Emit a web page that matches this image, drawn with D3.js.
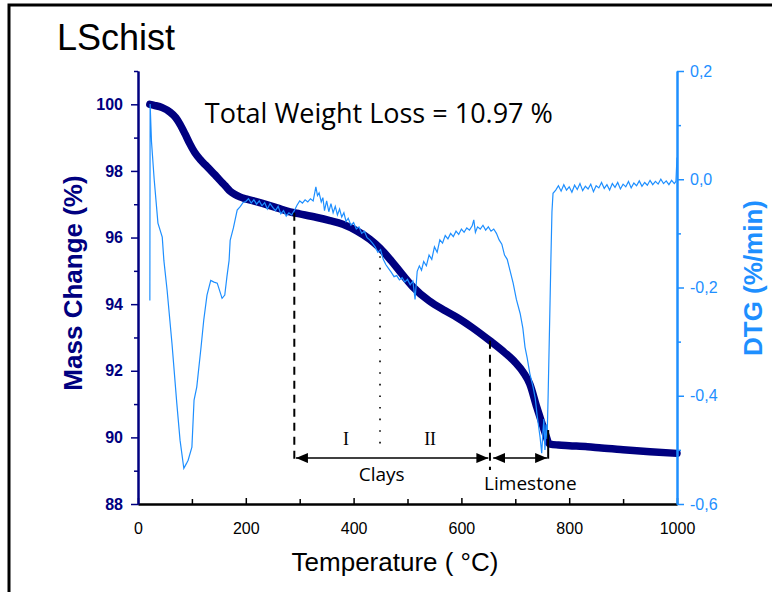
<!DOCTYPE html>
<html>
<head>
<meta charset="utf-8">
<script src="https://cdn.jsdelivr.net/npm/d3@7"></script>
<style>
  body { margin: 0; background: #fff; }
  svg { display: block; }
</style>
</head>
<body>
<svg id="chart"></svg>
<script>
// TGA / DTG curves
var tempMass = [22, 30, 45, 59, 70, 78, 87, 96, 105, 115, 125, 134, 143, 152, 162, 171, 180, 189, 200, 221, 240, 258, 282, 300, 330, 356, 380, 406, 430, 449, 470, 490, 510, 540, 570, 592, 620, 653, 680, 700, 715, 727, 740, 750, 755, 759, 761, 765, 780, 800, 834, 860, 900, 950, 1000];
var massPct = [100.0, 99.97, 99.9, 99.77, 99.6, 99.4, 99.12, 98.82, 98.56, 98.35, 98.18, 98.03, 97.88, 97.72, 97.55, 97.39, 97.29, 97.22, 97.16, 97.07, 96.98, 96.89, 96.77, 96.71, 96.61, 96.51, 96.4, 96.2, 95.95, 95.68, 95.3, 94.9, 94.52, 94.1, 93.8, 93.6, 93.3, 92.9, 92.55, 92.25, 91.95, 91.6, 90.9, 90.4, 90.15, 89.95, 89.85, 89.8, 89.77, 89.75, 89.72, 89.68, 89.63, 89.57, 89.52];

var tempDtg = [22, 22.5, 25, 30, 37, 45, 48, 54, 63, 72, 78, 85, 90, 93, 100, 104, 109, 117, 122, 128, 135, 141, 147, 156, 161, 165, 169, 171, 177, 184, 190, 195,
  200, 205, 210, 215, 220, 225, 230, 235, 240, 245, 250, 255, 260, 265, 270, 275, 280, 285, 290, 295, 300, 305, 310, 315, 320, 325, 330, 333, 336, 340, 343, 346, 350, 354, 358, 362, 366, 370, 374, 378, 382, 386, 390, 395, 400, 405, 410, 415, 420, 425, 430, 435, 440, 445, 450, 455, 460, 465, 470, 475, 480, 485, 490, 495, 500, 505, 510, 514, 518, 522, 526, 530, 535, 540, 545, 550, 555, 560, 565, 570, 575, 580, 585, 590, 595, 600, 605, 610, 615, 620, 623, 626, 630, 635, 640, 645, 650, 655, 660, 665, 670, 675, 680, 685, 690, 696, 702, 709, 714, 718, 722, 727, 733, 737, 740, 743, 746, 749, 751, 753, 755, 757, 759, 761, 764, 766, 768, 770, 775,
  780, 785, 790, 795, 800, 805, 810, 815, 820, 825, 830, 835, 840, 845, 850, 855, 860, 865, 870, 875, 880, 885, 890, 895, 900, 905, 910, 915, 920, 925, 930, 935, 940, 945, 950, 955, 960, 965, 970, 975, 980, 985, 990, 995, 998, 1000];
var dtgRate = [-0.224, 0.139, 0.07, 0.0, -0.081, -0.107, -0.15, -0.205, -0.303, -0.414, -0.482, -0.534, -0.525, -0.519, -0.495, -0.408, -0.384, -0.31, -0.26, -0.214, -0.187, -0.19, -0.192, -0.22, -0.214, -0.18, -0.15, -0.113, -0.09, -0.057, -0.05, -0.043,
  -0.041, -0.036, -0.044, -0.038, -0.046, -0.040, -0.049, -0.043, -0.055, -0.045, -0.052, -0.058, -0.050, -0.064, -0.058, -0.068, -0.062, -0.066, -0.058, -0.048, -0.040, -0.044, -0.038, -0.042, -0.036, -0.040, -0.014, -0.030, -0.025, -0.042, -0.034, -0.058, -0.040, -0.060, -0.045, -0.062, -0.050, -0.066, -0.055, -0.070, -0.062, -0.078, -0.072, -0.085, -0.080, -0.092, -0.088, -0.100, -0.096, -0.108, -0.112, -0.118, -0.125, -0.135, -0.130, -0.148, -0.158, -0.165, -0.172, -0.180, -0.178, -0.186, -0.182, -0.190, -0.185, -0.195, -0.188, -0.222, -0.170, -0.160, -0.168, -0.152, -0.160, -0.140, -0.148, -0.125, -0.135, -0.112, -0.118, -0.104, -0.110, -0.100, -0.106, -0.096, -0.102, -0.092, -0.098, -0.090, -0.094, -0.086, -0.075, -0.098, -0.088, -0.092, -0.085, -0.094, -0.088, -0.096, -0.092, -0.100, -0.112, -0.120, -0.140, -0.148, -0.168, -0.192, -0.222, -0.248, -0.275, -0.310, -0.330, -0.359, -0.384, -0.405, -0.432, -0.455, -0.477, -0.506, -0.470, -0.443, -0.500, -0.453, -0.480, -0.396, -0.25, -0.15, -0.06, -0.026, -0.020,
  -0.012, -0.022, -0.010, -0.020, -0.014, -0.024, -0.011, -0.019, -0.008, -0.021, -0.013, -0.018, -0.009, -0.023, -0.012, -0.016, -0.006, -0.017, -0.010, -0.020, -0.008, -0.015, -0.006, -0.018, -0.009, -0.014, -0.004, -0.016, -0.007, -0.012, -0.003, -0.013, -0.006, -0.011, -0.002, -0.010, -0.004, -0.009, 0.000, -0.008, -0.003, -0.010, -0.002, -0.008, -0.004, 0.04];

var tempTicks = [0, 200, 400, 600, 800, 1000];
var tempMinor = [100, 300, 500, 700, 900];
var massTicks = [88, 90, 92, 94, 96, 98, 100];
var massMinor = [89, 91, 93, 95, 97, 99, 101];
var dtgTicks = [-0.6, -0.4, -0.2, 0.0, 0.2];
var dtgMinor = [-0.5, -0.3, -0.1, 0.1];

var navy = "#000080", blue = "#1e8fff";
var W = 772, H = 592;

var svg = d3.select("#chart").attr("width", W).attr("height", H);

var x = d3.scaleLinear().domain([0, 1000]).range([138, 677]);
var yM = d3.scaleLinear().domain([88, 101]).range([504, 71]);
var yD = d3.scaleLinear().domain([-0.6, 0.2]).range([504, 71]);

// outer frame (only top and left edges show)
svg.append("path")
  .attr("d", "M9," + (H + 5) + "V5H" + (W + 5))
  .attr("fill", "none").attr("stroke", "#000").attr("stroke-width", 3);

var mass = tempMass.map(function(t, i) { return [t, massPct[i]]; });
var dtg = tempDtg.map(function(t, i) { return [t, dtgRate[i]]; });

function massAt(t) {
  var i = d3.bisector(function(d) { return d[0]; }).left(mass, t);
  if (i <= 0) return mass[0][1];
  var a = mass[i - 1], b = mass[i];
  return a[1] + (b[1] - a[1]) * (t - a[0]) / (b[0] - a[0]);
}

// mass curve
svg.append("path")
  .datum(mass)
  .attr("fill", "none")
  .attr("stroke", navy)
  .attr("stroke-width", 7.5)
  .attr("stroke-linecap", "round")
  .attr("stroke-linejoin", "round")
  .attr("d", d3.line().x(function(d) { return x(d[0]); }).y(function(d) { return yM(d[1]); }).curve(d3.curveMonotoneX));

// DTG curve
svg.append("path")
  .datum(dtg)
  .attr("fill", "none")
  .attr("stroke", blue)
  .attr("stroke-width", 1.2)
  .attr("d", d3.line().x(function(d) { return x(d[0]); }).y(function(d) { return yD(d[1]); }));

// axes
function styleAxis(g, color, size, weight) {
  g.select(".domain").attr("stroke", color).attr("stroke-width", 2);
  g.selectAll(".tick line").attr("stroke", color).attr("stroke-width", 1.5);
  g.selectAll(".tick text")
    .attr("fill", color)
    .attr("font-family", "'Liberation Sans', Arial, sans-serif")
    .attr("font-size", size)
    .attr("font-weight", weight);
}

svg.append("g")
  .attr("transform", "translate(0,504)")
  .call(d3.axisBottom(x).tickValues(tempMinor).tickSize(-5).tickSizeOuter(0).tickFormat(""))
  .call(styleAxis, "#000", 16, "normal");
svg.append("g")
  .attr("transform", "translate(0,504)")
  .call(d3.axisBottom(x).tickValues(tempTicks).tickSize(-6).tickSizeOuter(0).tickPadding(19).tickFormat(d3.format("d")))
  .call(styleAxis, "#000", 16, "normal");

svg.append("g")
  .attr("transform", "translate(138,0)")
  .call(d3.axisLeft(yM).tickValues(massMinor).tickSize(4).tickSizeOuter(0).tickFormat(""))
  .call(styleAxis, navy, 16, "bold");
svg.append("g")
  .attr("transform", "translate(138,0)")
  .call(d3.axisLeft(yM).tickValues(massTicks).tickSize(7).tickSizeOuter(0).tickPadding(8).tickFormat(d3.format("d")))
  .call(styleAxis, navy, 16, "bold");

var commaFmt = function(v) { return d3.format(".1f")(v).replace(".", ",").replace("\u2212", "-"); };
svg.append("g")
  .attr("transform", "translate(677,0)")
  .call(d3.axisRight(yD).tickValues(dtgMinor).tickSize(4).tickSizeOuter(0).tickFormat(""))
  .call(styleAxis, blue, 16, "normal");
svg.append("g")
  .attr("transform", "translate(677,0)")
  .call(d3.axisRight(yD).tickValues(dtgTicks).tickSize(7).tickSizeOuter(0).tickPadding(6).tickFormat(commaFmt))
  .call(styleAxis, blue, 16, "normal");

// axis titles
svg.append("text")
  .attr("x", 395).attr("y", 571)
  .attr("text-anchor", "middle")
  .attr("font-family", "'Liberation Sans', Arial, sans-serif")
  .attr("font-size", 26)
  .text("Temperature ( \u00B0C)");

svg.append("text")
  .attr("transform", "translate(82,283) rotate(-90)")
  .attr("text-anchor", "middle")
  .attr("font-family", "'Liberation Sans', Arial, sans-serif")
  .attr("font-size", 26).attr("font-weight", "bold")
  .attr("fill", navy)
  .text("Mass Change (%)");

svg.append("text")
  .attr("transform", "translate(762,278) rotate(-90)")
  .attr("text-anchor", "middle")
  .attr("font-family", "'Liberation Sans', Arial, sans-serif")
  .attr("font-size", 26).attr("font-weight", "bold")
  .attr("fill", blue)
  .text("DTG (%/min)");

svg.append("text")
  .attr("x", 57).attr("y", 50)
  .attr("font-family", "'Liberation Sans', Arial, sans-serif")
  .attr("font-size", 36)
  .text("LSchist");

svg.append("text")
  .attr("x", x(124)).attr("y", yM(99.43))
  .attr("font-family", "'Open Sans', sans-serif")
  .attr("font-size", 27)
  .text("Total Weight Loss = 10.97 %");

// annotations
var defs = svg.append("defs");
defs.append("marker")
  .attr("id", "head")
  .attr("viewBox", "0 0 12 10")
  .attr("refX", 12).attr("refY", 5)
  .attr("markerWidth", 12).attr("markerHeight", 10)
  .attr("markerUnits", "userSpaceOnUse")
  .attr("orient", "auto-start-reverse")
  .append("path").attr("d", "M0,0L12,5L0,10Z").attr("fill", "#000");

var ann = svg.append("g").attr("stroke", "#000").attr("fill", "none");
ann.append("line")
  .attr("x1", x(290)).attr("x2", x(290))
  .attr("y1", yM(massAt(290))).attr("y2", yM(89.23))
  .attr("stroke-width", 2).attr("stroke-dasharray", "8,6");
ann.append("line")
  .attr("x1", x(449)).attr("x2", x(449))
  .attr("y1", yM(massAt(449)) + 8).attr("y2", yM(89.71))
  .attr("stroke-width", 1.6).attr("stroke-dasharray", "1.6,10");
ann.append("line")
  .attr("x1", x(653)).attr("x2", x(653))
  .attr("y1", yM(massAt(653))).attr("y2", yM(89.02))
  .attr("stroke-width", 2).attr("stroke-dasharray", "8,6");
ann.append("line")
  .attr("x1", x(761)).attr("x2", x(761))
  .attr("y1", yM(90.22)).attr("y2", yM(89.36))
  .attr("stroke-width", 2);
ann.append("line")
  .attr("x1", x(293)).attr("x2", x(650))
  .attr("y1", yM(89.38)).attr("y2", yM(89.38))
  .attr("stroke-width", 1.5)
  .attr("marker-start", "url(#head)").attr("marker-end", "url(#head)");
ann.append("line")
  .attr("x1", x(659)).attr("x2", x(759))
  .attr("y1", yM(89.38)).attr("y2", yM(89.38))
  .attr("stroke-width", 1.5)
  .attr("marker-start", "url(#head)").attr("marker-end", "url(#head)");

function label(t, m, txt, font, size) {
  svg.append("text")
    .attr("x", x(t)).attr("y", yM(m))
    .attr("text-anchor", "middle")
    .attr("font-family", font)
    .attr("font-size", size)
    .text(txt);
}
label(386, 89.77, "I", "'Liberation Serif', serif", 18);
label(542, 89.77, "II", "'Liberation Serif', serif", 18);
label(452, 88.69, "Clays", "'Open Sans', sans-serif", 19);
label(728, 88.42, "Limestone", "'Open Sans', sans-serif", 19);
</script>
</body>
</html>
